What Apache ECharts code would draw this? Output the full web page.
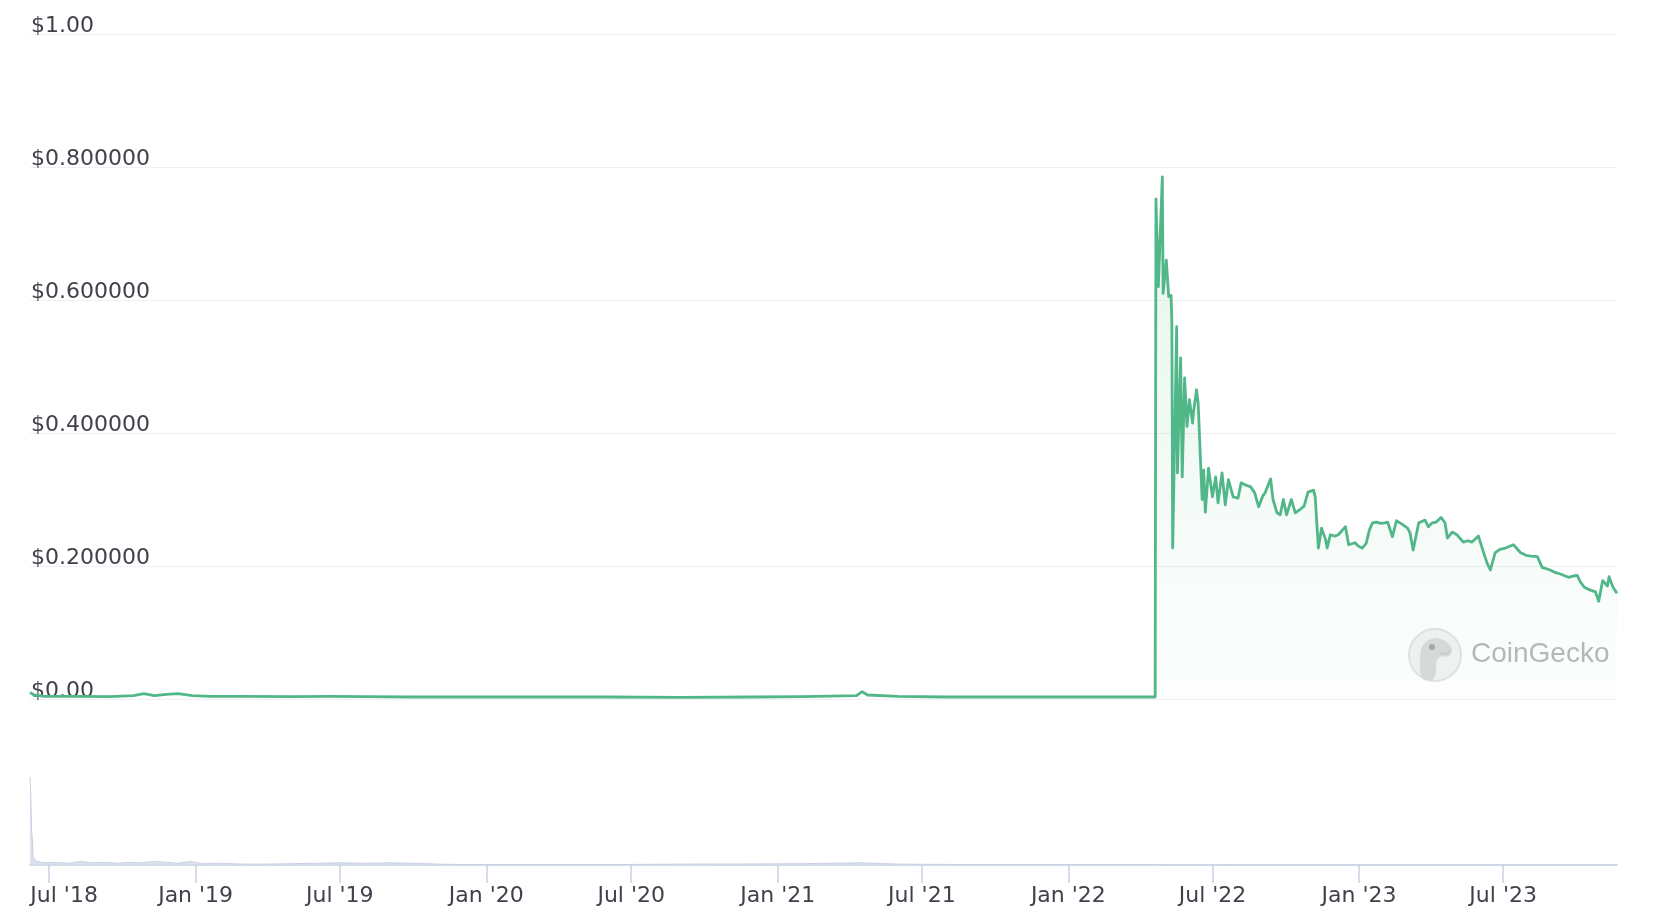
<!DOCTYPE html>
<html><head><meta charset="utf-8">
<script src="https://cdn.jsdelivr.net/npm/echarts@6/dist/echarts.min.js"></script>
<style>html,body{margin:0;padding:0;background:#fff}#c{width:1666px;height:914px}</style>
</head><body><div id="c"></div>
<script>
// ---- data ----
const priceDates = [
'2018-06-07','2018-06-12','2018-06-25','2018-08-01','2018-09-15','2018-10-15','2018-10-28','2018-11-10','2018-11-25','2018-12-10','2018-12-28',
'2019-01-20','2019-03-01','2019-05-01','2019-06-20','2019-08-01','2019-10-01','2019-12-01','2020-03-01','2020-06-01','2020-09-01','2020-12-01',
'2021-02-01','2021-04-10','2021-04-17','2021-04-24','2021-06-01','2021-08-01','2021-11-01','2022-02-01','2022-04-20',
'2022-04-21','2022-04-24','2022-04-29','2022-04-30','2022-05-04','2022-05-07','2022-05-10','2022-05-11','2022-05-12','2022-05-17','2022-05-18',
'2022-05-22','2022-05-24','2022-05-27','2022-05-30','2022-06-02','2022-06-06','2022-06-07','2022-06-11','2022-06-13','2022-06-18','2022-06-20',
'2022-06-22','2022-06-26','2022-07-01','2022-07-05','2022-07-08','2022-07-13','2022-07-17','2022-07-21','2022-07-27','2022-08-02','2022-08-06',
'2022-08-11','2022-08-18','2022-08-23','2022-08-28','2022-09-02','2022-09-05','2022-09-12','2022-09-15','2022-09-20','2022-09-24','2022-09-28',
'2022-10-02','2022-10-08','2022-10-13','2022-10-19','2022-10-24','2022-10-29','2022-11-05','2022-11-07','2022-11-11','2022-11-15','2022-11-20',
'2022-11-22','2022-11-26','2022-12-02','2022-12-06','2022-12-15','2022-12-19','2022-12-27','2022-12-31','2023-01-05','2023-01-10','2023-01-14',
'2023-01-18','2023-01-23','2023-01-28','2023-02-02','2023-02-06','2023-02-12','2023-02-17','2023-02-24','2023-03-03','2023-03-06','2023-03-10',
'2023-03-17','2023-03-25','2023-03-29','2023-04-03','2023-04-08','2023-04-14','2023-04-19','2023-04-22','2023-04-28','2023-05-04','2023-05-12',
'2023-05-18','2023-05-23','2023-05-31','2023-06-06','2023-06-11','2023-06-15','2023-06-21','2023-06-27','2023-07-04','2023-07-10','2023-07-14',
'2023-07-23','2023-07-30','2023-08-05','2023-08-13','2023-08-19','2023-08-29','2023-09-05','2023-09-11','2023-09-21','2023-09-28','2023-10-02',
'2023-10-06','2023-10-11','2023-10-18','2023-10-25','2023-10-29','2023-11-03','2023-11-09','2023-11-11','2023-11-16','2023-11-21'
];
const priceValues = [
0.010,0.006,0.004,0.004,0.0035,0.005,0.008,0.005,0.007,0.008,0.005,
0.004,0.004,0.0035,0.004,0.0035,0.003,0.003,0.003,0.003,0.0025,0.003,
0.0035,0.005,0.011,0.006,0.004,0.003,0.003,0.003,0.003,
0.752,0.62,0.785,0.61,0.66,0.605,0.607,0.565,0.227,0.56,0.34,
0.513,0.334,0.483,0.41,0.45,0.415,0.43,0.465,0.445,0.30,0.344,
0.281,0.347,0.304,0.334,0.295,0.34,0.292,0.33,0.304,0.302,0.325,
0.322,0.319,0.31,0.289,0.305,0.31,0.331,0.30,0.28,0.277,0.30,
0.277,0.30,0.28,0.285,0.29,0.311,0.314,0.304,0.227,0.257,0.24,
0.227,0.247,0.245,0.247,0.259,0.232,0.235,0.23,0.227,0.234,0.254,
0.265,0.266,0.264,0.265,0.266,0.244,0.268,0.263,0.257,0.25,0.224,
0.265,0.269,0.259,0.265,0.266,0.273,0.265,0.242,0.251,0.247,0.236,
0.238,0.236,0.245,0.222,0.204,0.194,0.22,0.225,0.227,0.23,0.232,
0.22,0.216,0.215,0.214,0.198,0.194,0.19,0.188,0.183,0.185,0.186,
0.176,0.168,0.164,0.161,0.147,0.178,0.17,0.184,0.168,0.159
];
const volumeDates = [
'2018-06-07','2018-06-08','2018-06-09','2018-06-10','2018-06-11','2018-06-13','2018-06-16','2018-06-25','2018-07-10','2018-07-25',
'2018-08-10','2018-08-25','2018-09-10','2018-09-25','2018-10-10','2018-10-25','2018-11-10','2018-11-25','2018-12-10','2018-12-25',
'2019-01-10','2019-02-01','2019-03-01','2019-04-01','2019-05-01','2019-06-01','2019-07-01','2019-08-01','2019-09-01','2019-10-01',
'2019-11-01','2019-12-01','2020-03-01','2020-06-01','2020-09-01','2020-12-01','2021-02-01','2021-04-17','2021-06-01','2021-09-01',
'2021-12-01','2022-03-01','2022-06-01','2022-12-01','2023-06-01','2023-11-21'
];
const volumeValues = [
100,80,40,30,10,6,4,2.5,3,2,
4,2.5,3,2,3,2.5,4,3,2,4,
1.5,2,1,1,1.5,2,2.5,2,2.5,2,
1,0.5,0.5,0.5,1,1.2,1.5,2.5,1,0.5,
0.5,0.5,0.3,0.2,0.2,0.2
];
const xMinDate = '2018-06-07';
const xMaxDate = '2023-11-21';
const xTickDates = ['2018-07-01','2019-01-01','2019-07-01','2020-01-01','2020-07-01','2021-01-01','2021-07-01','2022-01-01','2022-07-01','2023-01-01','2023-07-01'];
const xTickLabels = ["Jul '18","Jan '19","Jul '19","Jan '20","Jul '20","Jan '21","Jul '21","Jan '22","Jul '22","Jan '23","Jul '23"];
const yTickValues = [0, 0.2, 0.4, 0.6, 0.8, 1];
const yTickLabels = ['$0.00','$0.200000','$0.400000','$0.600000','$0.800000','$1.00'];

// ---- chart ----
const ts = s => { const p = s.split('-').map(Number); return Date.UTC(p[0], p[1]-1, p[2]); };
const xTickTs = xTickDates.map(ts);
const FONT = 'DejaVu Sans';
const LABEL_COLOR = '#40414b';
const chart = echarts.init(document.getElementById('c'), null, {renderer: 'canvas'});

const option = {
  animation: false,
  backgroundColor: '#ffffff',
  grid: [
    {left: 30, right: 49, top: 34, height: 665},
    {left: 30, right: 49, top: 777, height: 88}
  ],
  xAxis: [
    {type: 'value', gridIndex: 0, min: ts(xMinDate), max: ts(xMaxDate), scale: true,
     axisLine: {show: false}, axisTick: {show: false}, axisLabel: {show: false}, splitLine: {show: false}},
    {type: 'value', gridIndex: 1, min: ts(xMinDate), max: ts(xMaxDate), scale: true,
     axisLine: {show: true, onZero: false, lineStyle: {color: '#c9d1e3', width: 1.5}},
     axisTick: {show: true, customValues: xTickTs, length: 18, lineStyle: {color: '#c9d1e3', width: 1.5}},
     splitLine: {show: false},
     axisLabel: {
       customValues: xTickTs, margin: 20, color: LABEL_COLOR, fontFamily: FONT, fontSize: 22,
       formatter: function (v) {
         const i = xTickTs.indexOf(v);
         const t = i >= 0 ? xTickLabels[i] : '';
         return i === 0 ? '{f|' + t + '}' : t;
       },
       rich: {f: {padding: [0, 0, 0, 30], color: LABEL_COLOR, fontFamily: FONT, fontSize: 22}}
     }}
  ],
  yAxis: [
    {type: 'value', gridIndex: 0, min: 0, max: 1, interval: 0.2,
     axisLine: {show: false}, axisTick: {show: false},
     splitLine: {show: true, lineStyle: {color: '#eef0f3', width: 1.2}},
     axisLabel: {
       inside: true, margin: 1, verticalAlign: 'bottom', color: LABEL_COLOR, fontFamily: FONT, fontSize: 22,
       lineHeight: 16,
       formatter: function (v) {
         const i = yTickValues.findIndex(t => Math.abs(t - v) < 1e-9);
         return i >= 0 ? yTickLabels[i] : '';
       }
     }},
    {type: 'value', gridIndex: 1, min: 0, max: 100, show: false, splitLine: {show: false}}
  ],
  graphic: [
    {type: 'group', x: 1435, y: 655, z: 1, children: [
      {type: 'circle', shape: {cx: 0, cy: 0, r: 26}, style: {fill: '#f2f2f2', stroke: '#e2e2e2', lineWidth: 2}},
      {type: 'polygon', shape: {smooth: 0.35, points: [[-13,23],[-15,6],[-12,-10],[0,-17],[10,-14],[17,-6],[14,1],[5,2],[1,8],[1,18],[-3,25]]},
       style: {fill: '#dadada'}},
      {type: 'circle', shape: {cx: -3, cy: -8, r: 3}, style: {fill: '#a8a8a8'}},
      {type: 'polyline', shape: {points: [[5,-2],[10,-1.5],[15,-4]], smooth: 0.5}, style: {fill: null, stroke: '#c4c4c4', lineWidth: 1.2}}
    ]},
    {type: 'text', x: 1471, y: 654, z: 1, style: {text: 'CoinGecko', fill: '#b8b8b8', font: '500 28px "Liberation Sans", sans-serif', verticalAlign: 'middle', align: 'left'}}
  ],
  series: [
    {type: 'line', xAxisIndex: 0, yAxisIndex: 0, z: 3, showSymbol: false, symbol: 'none',
     data: priceDates.map((d, i) => [ts(d), priceValues[i]]),
     lineStyle: {color: '#52b788', width: 2.8, join: 'round'},
     areaStyle: {color: new echarts.graphic.LinearGradient(0, 0, 0, 1, [
       {offset: 0, color: 'rgba(82,183,136,0.20)'},
       {offset: 1, color: 'rgba(82,183,136,0.02)'}
     ])}},
    {type: 'line', xAxisIndex: 1, yAxisIndex: 1, showSymbol: false, symbol: 'none',
     data: volumeDates.map((d, i) => [ts(d), volumeValues[i]]),
     lineStyle: {color: '#c9d1e3', width: 1},
     areaStyle: {color: '#d3d9e8', opacity: 0.8}}
  ]
};
chart.setOption(option);
</script>
</body></html>
